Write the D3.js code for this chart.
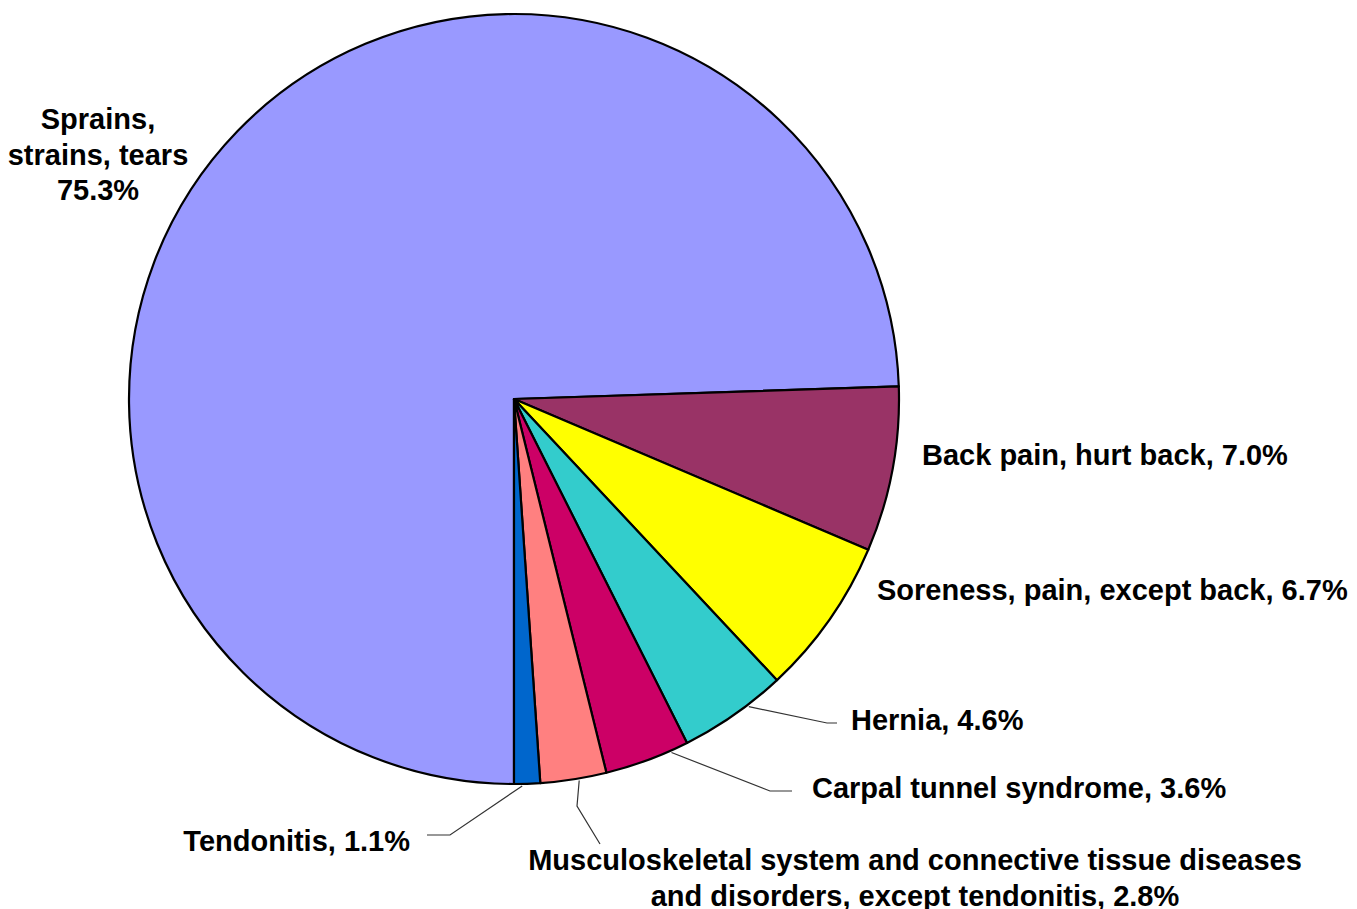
<!DOCTYPE html>
<html>
<head>
<meta charset="utf-8">
<script src="https://cdn.jsdelivr.net/npm/d3@7"></script>
<style>
	body { margin: 0; background: #fff; }
	text { font-family: Arial, "Liberation Sans", sans-serif; font-weight: bold; font-size: 29px; fill: #000; }
</style>
</head>
<body>
<div id="chart"></div>
<script>
var categories = [
	'Sprains, strains, tears',
	'Back pain, hurt back',
	'Soreness, pain, except back',
	'Hernia',
	'Carpal tunnel syndrome',
	'Musculoskeletal system and connective tissue diseases and disorders, except tendonitis',
	'Tendonitis'
];
var values = [75.3, 7.0, 6.7, 4.6, 3.6, 2.8, 1.1];
var colors = ['#9999ff', '#993366', '#ffff00', '#33cccc', '#cc0066', '#ff8080', '#0066cc'];

// label placement, hand placed like the original
// sep = between name and value, words = words per line, at = where the leader touches the slice (0..1)
var labelLayout = [
	{ x: 98,  y: 129, anchor: 'middle', sep: ' ',  words: [1, 2, 1], leader: null },
	{ x: 922, y: 465, anchor: 'start',  sep: ', ', words: null, leader: null },
	{ x: 877, y: 600, anchor: 'start',  sep: ', ', words: null, leader: null },
	{ x: 851, y: 730, anchor: 'start',  sep: ', ', words: null, at: 0.35, leader: [[827, 723], [837, 723]] },
	{ x: 812, y: 798, anchor: 'start',  sep: ', ', words: null, at: 0.21, leader: [[770, 791], [792, 791]] },
	{ x: 915, y: 870, anchor: 'middle', sep: ', ', words: [6, 5], at: 0.42, leader: [[577, 806], [600, 844]] },
	{ x: 410, y: 851, anchor: 'end',    sep: ', ', words: null, at: 0.69, leader: [[450, 835], [427, 835]] }
];

var width = 1357, height = 909;
var cx = 514, cy = 399, radius = 385;

var svg = d3.select('#chart').append('svg').attr('width', width).attr('height', height);
var g = svg.append('g').attr('transform', 'translate(' + cx + ',' + cy + ')');

var pie = d3.pie().sort(null).startAngle(Math.PI).endAngle(3 * Math.PI);
var arcs = pie(values);
var arc = d3.arc().innerRadius(0).outerRadius(radius);

g.selectAll('path.slice')
	.data(arcs)
	.enter().append('path')
	.attr('class', 'slice')
	.attr('d', arc)
	.style('fill', function(d, i) { return colors[i]; })
	.style('stroke', '#000')
	.style('stroke-width', 2.2)
	.style('stroke-linejoin', 'round');

// leader lines from the rim to the label
arcs.forEach(function(d, i) {
	var lay = labelLayout[i];
	if (!lay.leader) return;
	var a = d.startAngle + (d.endAngle - d.startAngle) * lay.at;
	var pts = [[cx + (radius + 2) * Math.sin(a), cy - (radius + 2) * Math.cos(a)]].concat(lay.leader);
	svg.append('path')
		.attr('d', d3.line()(pts))
		.style('fill', 'none')
		.style('stroke', '#333')
		.style('stroke-width', 1.2);
});

// labels
categories.forEach(function(name, i) {
	var lay = labelLayout[i];
	var full = name + lay.sep + values[i].toFixed(1) + '%';
	var lines = [full];
	if (lay.words) {
		var w = full.split(' '), k = 0;
		lines = lay.words.map(function(n) { var s = w.slice(k, k + n).join(' '); k += n; return s; });
	}
	var t = svg.append('text')
		.attr('x', lay.x)
		.attr('y', lay.y)
		.attr('text-anchor', lay.anchor);
	lines.forEach(function(s, j) {
		t.append('tspan').attr('x', lay.x).attr('dy', j ? 35.5 : 0).text(s);
	});
});
</script>
</body>
</html>
